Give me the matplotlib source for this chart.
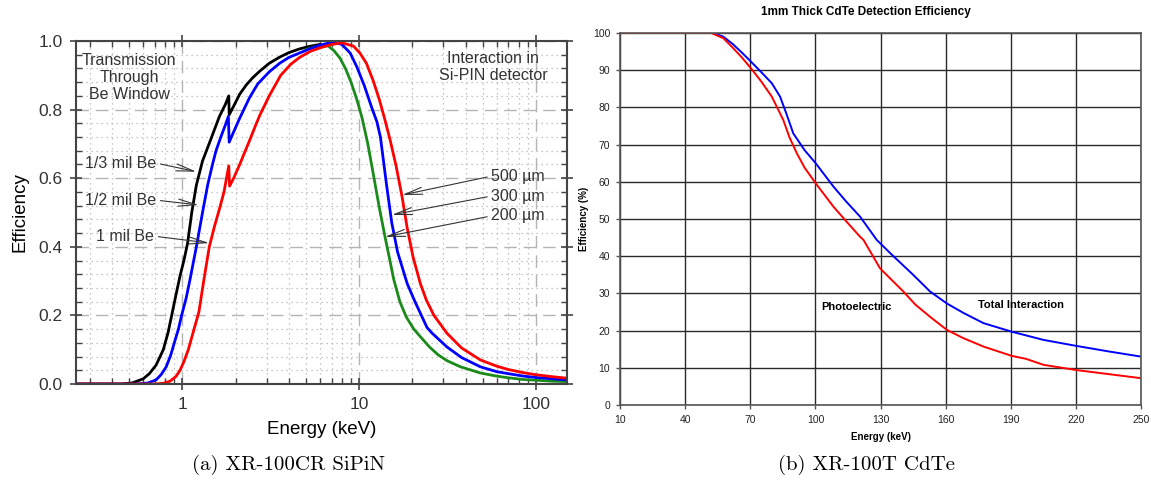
import matplotlib.pyplot as plt
from matplotlib.ticker import FixedLocator, NullFormatter, FuncFormatter, MultipleLocator

plt.rcParams['font.family'] = ['Liberation Sans', 'DejaVu Sans']

# ---- (a) XR-100CR SiPiN : energy (keV) / efficiency
# 1/3 mil Be window (black, low-energy side)
be_third_e = [0.25, 0.45, 0.52, 0.6, 0.65, 0.71, 0.78, 0.83, 0.87, 0.92, 0.97, 1.02, 1.07, 1.13, 1.2,
              1.3, 1.44, 1.62, 1.75, 1.83,
              1.84, 1.95, 2.11, 2.3, 2.5, 2.74, 3.1, 3.55, 4.0, 4.6, 5.3, 6.0]
be_third_eff = [0, 0, 0.003, 0.015, 0.03, 0.055, 0.1, 0.15, 0.2, 0.26, 0.315, 0.36, 0.41, 0.5, 0.58,
                0.65, 0.71, 0.78, 0.815, 0.84,
                0.785, 0.81, 0.845, 0.872, 0.893, 0.912, 0.935, 0.953, 0.966, 0.977, 0.985, 0.99]

# 300 um Si / 1/2 mil Be (blue)
si300_e = [0.25, 0.55, 0.64, 0.71, 0.76, 0.81, 0.86, 0.9, 0.95, 0.99, 1.05, 1.1, 1.2, 1.3, 1.39,
           1.48, 1.55, 1.65, 1.75, 1.82,
           1.84, 1.95, 2.11, 2.4, 2.67, 3.1, 3.55, 4.0, 4.6, 5.3, 6.0, 7.1, 8.0, 8.9, 9.7, 10.7,
           11.8, 12.6, 13.2, 13.7, 14.3, 15.3, 16.5, 18.7, 20.5, 22.5, 24.2, 25.9, 31.4, 38, 48.6,
           60, 70, 85, 100, 125, 150]
si300_eff = [0, 0, 0.003, 0.012, 0.028, 0.05, 0.085, 0.12, 0.16, 0.2, 0.25, 0.3, 0.4, 0.5, 0.58,
             0.64, 0.68, 0.72, 0.755, 0.78,
             0.705, 0.735, 0.775, 0.835, 0.875, 0.91, 0.935, 0.952, 0.965, 0.978, 0.988, 0.997, 0.99,
             0.965, 0.925, 0.87,
             0.805, 0.765, 0.72, 0.655, 0.58, 0.47, 0.385, 0.293, 0.245, 0.2, 0.165, 0.148, 0.108,
             0.077, 0.05, 0.036, 0.03, 0.023, 0.019, 0.015, 0.012]

# 500 um Si / 1 mil Be (red)
si500_e = [0.25, 0.7, 0.78, 0.85, 0.92, 0.97, 1.02, 1.08, 1.15, 1.24, 1.32, 1.42, 1.52, 1.62,
           1.72, 1.83,
           1.85, 1.95, 2.11, 2.25, 2.4, 2.6, 2.75, 3.1, 3.6, 4.1, 4.6, 5.3, 6.0, 7.0, 8.0, 9.3,
           10.1, 11.0, 12.0, 13.0, 14.0, 15.0, 16.2, 17.5, 18.7, 20.2, 22.2, 24.0, 26.5, 31.4,
           38, 48.6, 60, 70, 85, 100, 125, 150]
si500_eff = [0, 0, 0.002, 0.008, 0.022, 0.04, 0.065, 0.1, 0.15, 0.21, 0.3, 0.4, 0.46, 0.51,
             0.56, 0.636,
             0.577, 0.6, 0.64, 0.675, 0.71, 0.755, 0.785, 0.84, 0.9, 0.932, 0.952, 0.97, 0.98,
             0.99, 0.995, 0.985,
             0.965, 0.935, 0.885, 0.83, 0.77, 0.71, 0.635, 0.546, 0.455, 0.37, 0.293, 0.245, 0.2,
             0.148, 0.105, 0.07, 0.052, 0.042, 0.033, 0.027, 0.021, 0.017]

# 200 um Si (green, high-energy side)
si200_e = [5.0, 5.6, 6.25, 6.7, 7.2, 7.8, 8.4, 9.0, 9.7, 10.4, 11.2, 12.0, 13.0, 14.0, 14.8,
           15.7, 17.0, 18.5, 20.4, 22.2, 25, 28, 31.4, 37.5, 48.6, 60, 70, 85, 100, 125, 150]
si200_eff = [0.975, 0.983, 0.988, 0.985, 0.972, 0.95, 0.918, 0.88, 0.83, 0.775, 0.7, 0.615, 0.515,
             0.43, 0.37, 0.305, 0.24, 0.195, 0.16, 0.138, 0.108, 0.085, 0.068, 0.05, 0.032, 0.023,
             0.018, 0.013, 0.011, 0.008, 0.007]

# ---- (b) XR-100T CdTe : energy (keV) / efficiency (%)
total_e = [10, 53, 57.6, 62, 66, 70.3, 75, 79.9, 83.7, 86.5, 89.8, 95, 100.1, 108.3, 114, 120.6,
           128.2, 135, 145, 152.8, 160.5, 168, 177.4, 190.4, 205, 220, 235, 250]
total_eff = [100, 100, 99.0, 97, 94.8, 92.3, 89.5, 86.5, 82.9, 78.5, 73, 68.5, 65, 58.7, 54.8, 50.6,
             44.4, 40.5, 35, 30.5, 27.3, 24.8, 22, 19.7, 17.5, 15.9, 14.4, 13]
photo_e = [10, 52, 57.6, 62, 66, 70.3, 75, 79.9, 85.2, 88, 91.4, 95, 100.1, 108.3, 114, 120.6,
           122.1, 129.8, 140.5, 146, 152.8, 160.5, 168, 177.4, 190.4, 197, 205, 220, 235, 250]
photo_eff = [100, 100, 98.6, 96, 93.5, 90.5, 87, 82.9, 76.6, 72, 67.7, 63.8, 59.6, 53.3, 49.5, 45.2,
             44.4, 36.7, 30.5, 27, 23.7, 20.2, 18, 15.7, 13.2, 12.4, 10.8, 9.4, 8.3, 7.2]

fig = plt.figure(figsize=(11.51, 4.86), dpi=100)

# ================= left panel =================
ax1 = fig.add_axes([0.066, 0.2099, 0.4266, 0.7057])
ax1.set_xscale('log')
ax1.set_xlim(0.25, 150)
ax1.set_ylim(0, 1.0)

ax1.plot(be_third_e, be_third_eff, color='black', lw=2)
ax1.plot(si200_e, si200_eff, color='#1a8a1a', lw=2)
ax1.plot(si300_e, si300_eff, color='#0000ff', lw=2)
ax1.plot(si500_e, si500_eff, color='#ff0000', lw=2)

ax1.xaxis.set_major_locator(FixedLocator([1, 10, 100]))
ax1.xaxis.set_minor_locator(FixedLocator([0.3, 0.4, 0.5, 0.6, 0.7, 0.8, 0.9,
                                          2, 3, 4, 5, 6, 7, 8, 9,
                                          20, 30, 40, 50, 60, 70, 80, 90]))
ax1.xaxis.set_major_formatter(FuncFormatter(lambda v, p: '%g' % v))
ax1.xaxis.set_minor_formatter(NullFormatter())
ax1.yaxis.set_major_locator(MultipleLocator(0.2))
ax1.yaxis.set_minor_locator(MultipleLocator(0.04))
ax1.yaxis.set_major_formatter(FuncFormatter(lambda v, p: '%.1f' % v))

ax1.grid(which='major', color='#b4b4b4', lw=1, linestyle=(0, (9, 5)))
ax1.grid(which='minor', color='#b4b4b4', lw=0.9, linestyle=(0, (1, 3)))
ax1.set_axisbelow(True)
ax1.tick_params(which='major', direction='inout', length=9, width=1.2, color='#444444',
                labelsize=12.5, labelcolor='#333333', top=True, right=True, pad=5)
ax1.tick_params(which='minor', direction='in', length=4, width=1, color='#444444',
                top=True, right=True)
for s in ax1.spines.values():
    s.set_color('#444444')
    s.set_linewidth(1.5)

ax1.set_xlabel('Energy (keV)', fontsize=13.5, labelpad=6)
ax1.set_ylabel('Efficiency', fontsize=13.5, labelpad=7)

arrow = dict(arrowstyle='->,head_length=1.1,head_width=0.22', color='#333333', lw=0.8,
             shrinkA=1, shrinkB=0)
lab = dict(fontsize=11.5, color='#333333', va='center')
ax1.annotate('1/3 mil Be', xy=(1.2, 0.619), xytext=(0.712, 0.644), ha='right',
             arrowprops=dict(arrow, relpos=(1, 0.5)), **lab)
ax1.annotate('1/2 mil Be', xy=(1.238, 0.522), xytext=(0.712, 0.536), ha='right',
             arrowprops=dict(arrow, relpos=(1, 0.5)), **lab)
ax1.annotate('1 mil Be', xy=(1.42, 0.411), xytext=(0.693, 0.431), ha='right',
             arrowprops=dict(arrow, relpos=(1, 0.5)), **lab)
ax1.annotate('500 µm', xy=(17.5, 0.551), xytext=(56.0, 0.606), ha='left',
             arrowprops=dict(arrow, relpos=(0, 0.5)), **lab)
ax1.annotate('300 µm', xy=(15.3, 0.493), xytext=(56.0, 0.548), ha='left',
             arrowprops=dict(arrow, relpos=(0, 0.5)), **lab)
ax1.annotate('200 µm', xy=(14.0, 0.429), xytext=(56.0, 0.49), ha='left',
             arrowprops=dict(arrow, relpos=(0, 0.5)), **lab)

ax1.text(0.5, 0.893, 'Transmission\nThrough\nBe Window', ha='center', va='center',
         multialignment='center', linespacing=1.15, fontsize=11.5, color='#333333')
ax1.text(57.5, 0.924, 'Interaction in\nSi-PIN detector', ha='center', va='center',
         multialignment='center', linespacing=1.1, fontsize=11.5, color='#333333')

# ================= right panel =================
ax2 = fig.add_axes([0.5387, 0.1667, 0.4527, 0.7654])
ax2.set_xlim(10, 250)
ax2.set_ylim(0, 100)
ax2.plot(total_e, total_eff, color='#0000ff', lw=1.4)
ax2.plot(photo_e, photo_eff, color='#ff0000', lw=1.4)

ax2.set_xticks(range(10, 251, 30))
ax2.set_yticks(range(0, 101, 10))
ax2.grid(True, color='#2a2a2a', lw=1)
ax2.set_axisbelow(True)
ax2.tick_params(direction='out', length=3, width=1, color='#555555', labelsize=7.5,
                labelcolor='#222222', pad=4)
for s in ax2.spines.values():
    s.set_color('#555555')
    s.set_linewidth(1.2)

ax2.set_xlabel('Energy (keV)', fontsize=7, fontweight='bold', labelpad=5)
ax2.set_ylabel('Efficiency (%)', fontsize=7, fontweight='bold', labelpad=3)
fig.text(866 / 1151, 1 - 12 / 486, '1mm Thick CdTe Detection Efficiency', ha='center', va='center',
         fontsize=8.5, fontweight='bold')
ax2.text(102.6, 26.3, 'Photoelectric', fontsize=8, fontweight='bold', va='center', ha='left')
ax2.text(175, 27, 'Total Interaction', fontsize=8, fontweight='bold', va='center', ha='left')

# ================= captions =================
fig.text(289 / 1151, 1 - 465 / 486, '(a) XR-100CR SiPiN', ha='center', va='center',
         fontsize=15, family='cmr10')
fig.text(866 / 1151, 1 - 465 / 486, '(b) XR-100T CdTe', ha='center', va='center',
         fontsize=15, family='cmr10')

fig.savefig('out.png', dpi=100)
